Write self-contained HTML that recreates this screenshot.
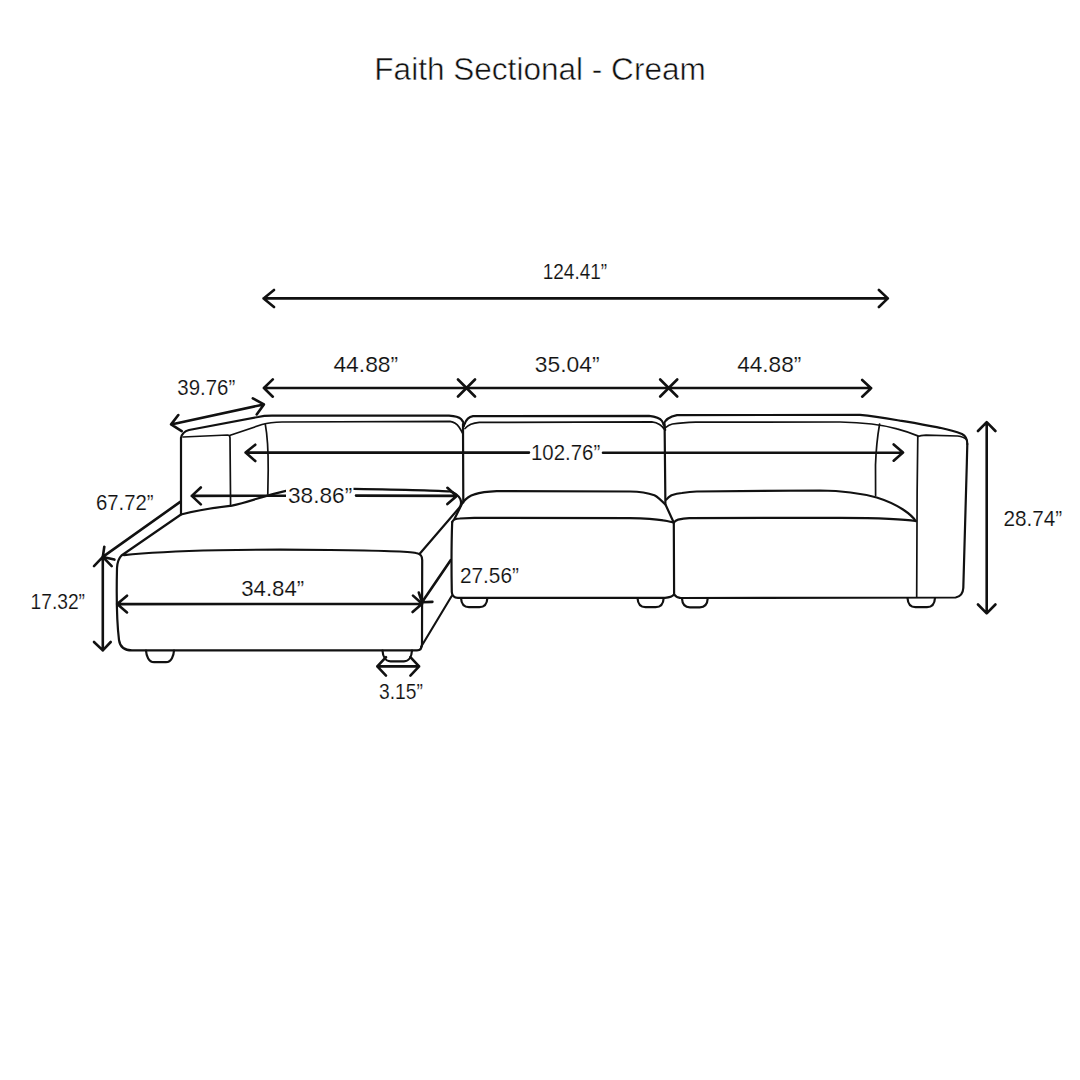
<!DOCTYPE html>
<html><head><meta charset="utf-8">
<style>
html,body{margin:0;padding:0;background:#fff;width:1080px;height:1080px;overflow:hidden}
svg{display:block}
.s{fill:none;stroke:#111;stroke-width:2.2;stroke-linecap:round;stroke-linejoin:round}
.t{fill:none;stroke:#111;stroke-width:1.7;stroke-linecap:round;stroke-linejoin:round}
.d{fill:none;stroke:#111;stroke-width:2.6;stroke-linecap:round;stroke-linejoin:round}
text{font-family:"Liberation Sans",sans-serif;fill:#111;font-size:21.3px;stroke:#fff;stroke-width:0.15px}
</style></head>
<body>
<svg width="1080" height="1080" viewBox="0 0 1080 1080">
<rect width="1080" height="1080" fill="#fff"/>
<!-- title -->
<text x="374.3" y="80" style="font-size:31px;stroke:#fff;stroke-width:0.5px" textLength="331.5" lengthAdjust="spacingAndGlyphs">Faith Sectional - Cream</text>

<!-- ========== SOFA ========== -->
<!-- left arm / back (chaise module) -->
<path class="s" d="M181,438 C182,433 185,431 189,430 L258,417 C262,416 266,415.6 272,415.6 L449,415.6 C456,416 459,417 461,419 C463,421 464,423 464,426"/>
<path class="s" d="M181,438 L181,514"/>
<path class="t" d="M183,437 L227.5,435 C229.5,435 230,436 230,438 L230.6,506"/>
<path class="t" d="M229.5,435.5 L262,424.5 C266,423.4 272,422.2 282,422 L450,421.3 C454,422 457,424 459,427 C461,430 462,432 462.4,433"/>
<path class="t" d="M265.3,424.4 C267.5,436 268.3,450 268.2,470 L267.8,494"/>
<!-- chaise top back edge -->
<path class="s" d="M181,514.5 C195,511 215,507.5 232,505.6 C248,502.5 264,495.5 286,490.8 C300,489 330,488.5 354,488.8 C400,489.5 440,490.5 450,491.5 C455,492.5 458,495 460.3,499 C461.5,502 461.2,505 459.5,507.5 L419.5,554"/>
<!-- chaise front face -->
<path class="s" d="M181,514.5 L121.5,555.5 C118.5,558.5 117.3,562 117,568 C116.5,590 116.5,620 119,640 C120,647 124,650.4 132,650.4 L417,650.4 C421,650.4 422,648 422,644 L422.2,560 C422,556 421,554 416,553 C410,551.5 380,550.5 330,550 C260,549 170,550 124,555.2"/>
<!-- chaise right side -->

<path class="s" style="stroke-width:2.1" d="M421,647 L451.7,596"/>
<path class="d" d="M422,602.2 L450.8,560 M418.8,592.5 L422,602.2 L432.4,601.9"/>
<!-- chaise feet -->
<path class="s" d="M146,650.5 C146.3,655.5 148.5,662.2 154,662.2 L166,662.2 C171.5,662.2 173.7,655.5 174,650.5"/>
<path class="s" d="M382.5,650.5 C382.8,655.5 385.0,661.3 390.5,661.3 L404,661.3 C409.5,661.3 411.7,655.5 412,650.5"/>

<!-- middle module -->
<path class="s" d="M464.7,424 C466,420 469,417 473,416.2 L649,415.8 C656,416.5 660,418 662,421 C664,424 665,427 665.2,430"/>
<path class="t" d="M465,428.5 C468,425 472,423 479.3,422.4 L651.8,421.8 C658,422.5 662,425 665,430"/>
<path class="s" d="M463,424 L463.3,502.6"/>
<path class="s" d="M664.6,424 L665.4,504.5"/>
<path class="s" d="M454.4,519 L462.6,502.6 C466,498.5 470,495.5 474.4,494.4 C480,492.5 488,491.4 496.7,491.1 L630,491.5 C640,491.7 648,493 654.4,495.2 C658,497 661,500 665.6,504.8 L673.5,522"/>
<path class="s" d="M452.2,522 C453,520 455.5,518.5 459.6,518.5 L474.4,517.8 L630,518.1 C645,518.4 655,519 663.3,520.4 C668,521 671,522 673.7,522.6"/>
<path class="s" d="M452.2,522 C451.5,540 451.5,575 451.8,592 C452,596 454,597.8 458,597.8 L665,597.8 C670,597.5 672.5,596.5 674,594.4"/>
<path class="s" d="M673.8,522.6 L674.1,594.4 C675.5,596.5 677,597.6 680,597.8"/>
<path class="s" d="M461,598 C461.3,603 463.5,607.2 469,607.2 L479.4,607.2 C484.9,607.2 487.09999999999997,603 487.4,598"/>
<path class="s" d="M637.5,598 C637.8,603 640.0,607.2 645.5,607.2 L655.7,607.2 C661.2,607.2 663.4000000000001,603 663.7,598"/>

<!-- right module -->
<path class="s" d="M663.6,424.4 C665,420 668,417 677,415.2 L860,414.8 C875,416 888,418.5 900,420.7 C915,423 925,425 940,427.8 C950,430 958,432.5 962,434 C966,436 967.3,438.5 967.3,444"/>
<path class="t" d="M665.5,427.7 C667.5,426 670,424.5 672.4,424 C680,422.8 688,422.3 695.6,422.1 L840,422 C860,422.3 880,424 897,428.9 C905,431 912,433.5 917.8,435.9"/>
<path class="t" d="M917.8,436.5 C920,435.5 922,435.3 926,435.2 L957.8,436 C961,436.5 964,437 966.5,439.5"/>
<path class="s" d="M967.3,444 C966,500 964,560 963.3,588 C963,593 961,596.5 955.6,597.5 L680,598"/>
<path class="t" d="M917.8,436 C917,490 916.5,560 916.7,596.7"/>
<path class="t" d="M879.6,424 C877.5,436 876,450 875.5,465 L875.6,495.6"/>
<path class="s" d="M666.3,499.6 C668,497.5 670,496 671.5,495.2 C675,494 678,493.3 681.9,493 C688,492 692,491.6 696.7,491.5 L820,490.5 C840,490.8 860,493 876.7,497.5 C888,501 896,505 903,509.5 C909,513.5 913.5,517.5 915.6,521"/>
<path class="s" d="M673.7,522.6 C675,521 676.5,520 678.1,519.6 C682,518.6 685,518.2 689.3,518.1 L840,517.8 C880,518 905,519 915.6,521"/>

<path class="s" d="M681.9,598 C682.1999999999999,603 684.4,607.4 689.9,607.4 L699.8,607.4 C705.3,607.4 707.5,603 707.8,598"/>
<path class="s" d="M907.5,598 C907.8,603 910.0,607.2 915.5,607.2 L927,607.2 C932.5,607.2 934.7,603 935,598"/>

<!-- ========== DIMENSIONS ========== -->
<!-- 124.41 -->
<path class="d" d="M263.6,298.4 L887.8,298.4 M274,290 L263.6,298.4 L274,307 M878.9,290 L887.8,298.4 L878.9,307"/>
<text x="542.7" y="279.3" textLength="64.5" lengthAdjust="spacingAndGlyphs">124.41”</text>
<!-- 44.88 / 35.04 / 44.88 -->
<path class="d" d="M263.9,388 L871.1,388 M272.8,379.4 L263.9,388 L272.8,396.7 M862.2,380 L871.1,388.2 L862.2,396.7"/>
<path class="d" d="M458,379.5 L475,396.5 M458,396.5 L475,379.5 M660.2,379.5 L677.2,396.5 M660.2,396.5 L677.2,379.5"/>
<text x="333.4" y="372" textLength="64.8" lengthAdjust="spacingAndGlyphs">44.88”</text>
<text x="534.8" y="372" textLength="64.8" lengthAdjust="spacingAndGlyphs">35.04”</text>
<text x="737.2" y="371.8" textLength="64.1" lengthAdjust="spacingAndGlyphs">44.88”</text>
<!-- 39.76 -->
<path class="d" d="M171.1,424.4 L263.9,404.4 M178.3,415 L171.1,424.4 L181.7,431.1 M252.8,398.3 L263.9,404.4 L256.7,414.4"/>
<text x="177.3" y="395.3" textLength="57.9" lengthAdjust="spacingAndGlyphs">39.76”</text>
<!-- 102.76 -->
<path class="d" d="M245.6,452.6 L529,452.6 M603,452.8 L903,452.6 M255.3,444.7 L245.6,452.6 L255.3,461 M893.7,444.4 L903,452.6 L893.7,460.7"/>
<text x="531.0" y="459.6" textLength="69.2" lengthAdjust="spacingAndGlyphs">102.76”</text>
<!-- 38.86 -->
<path class="d" d="M191.8,495.9 L286,495.7 M356,495.6 L456.7,495.9 M200.8,487.5 L191.8,495.9 L200.8,504.4 M447.4,487.8 L456.7,495.9 L447.4,504.1"/>
<rect x="286" y="484" width="67.5" height="22" fill="#fff"/>
<text x="288.0" y="503" textLength="64.2" lengthAdjust="spacingAndGlyphs">38.86”</text>
<!-- 67.72 -->
<path class="d" d="M102.8,556.9 L180.2,501.9 M104.3,546.7 L102.8,556.9 L114.4,559.6"/>
<text x="95.9" y="509.6" textLength="57.6" lengthAdjust="spacingAndGlyphs">67.72”</text>
<!-- 17.32 -->
<path class="d" d="M102.8,556.9 L102.8,650.4 M94,566.1 L102.8,556.9 L111.7,566.1 M94,642 L102.8,650.4 L110.7,642"/>
<text x="30.5" y="608.7" textLength="54.5" lengthAdjust="spacingAndGlyphs">17.32”</text>
<!-- 34.84 -->
<path class="d" d="M117.2,604.1 L422.1,603.8 M127,595.7 L117.2,604.1 L127,612.4 M413,595.6 L422.1,603.8 L412.6,612 "/>
<text x="241.2" y="595.6" textLength="63.0" lengthAdjust="spacingAndGlyphs">34.84”</text>
<!-- 27.56 -->
<text x="459.9" y="582.7" textLength="59.0" lengthAdjust="spacingAndGlyphs">27.56”</text>
<!-- 3.15 -->
<path class="d" d="M377.3,666.4 L419.1,666.4 M386,657.2 L377.3,666.4 L386,675.6 M410.4,657.2 L419.1,666.4 L410.4,675.6"/>
<text x="379.0" y="699.3" textLength="43.8" lengthAdjust="spacingAndGlyphs">3.15”</text>
<!-- 28.74 -->
<path class="d" d="M986.7,422.2 L986.7,613.3 M978,431 L986.7,422.2 L995.4,431 M978,604.5 L986.7,613.3 L995.4,604.5"/>
<text x="1003.4" y="525.6" textLength="58.8" lengthAdjust="spacingAndGlyphs">28.74”</text>
</svg>
</body></html>
